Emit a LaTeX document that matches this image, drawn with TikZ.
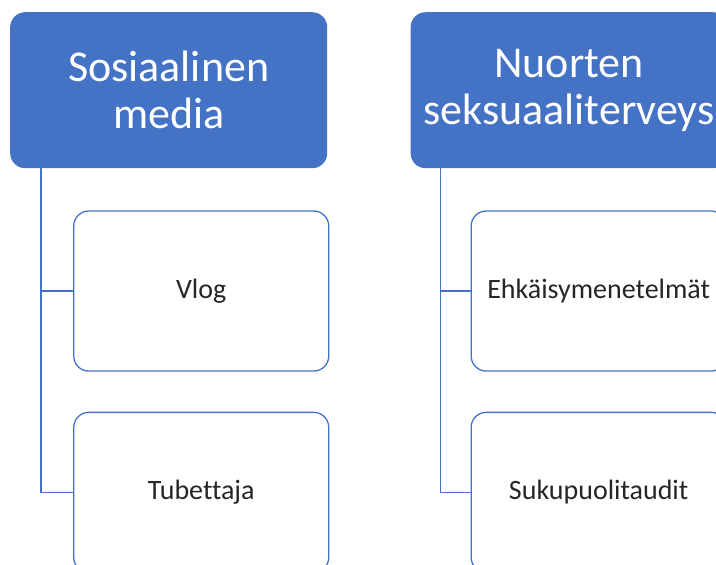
\documentclass[tikz,border=0pt]{standalone}
\usepackage{fontspec}
\setmainfont[Ligatures=NoCommon]{Carlito}
\usepackage{tikz}
\usetikzlibrary{positioning}
\definecolor{sablue}{HTML}{4472C4}

\begin{document}
\begin{tikzpicture}[x=1pt, y=1pt,
headnode/.style={rectangle, rounded corners=15pt, fill=sablue, text=white, minimum width=317pt, minimum height=156pt, align=center, font=\fontsize{44}{47}\selectfont},
childnode/.style={rectangle, rounded corners=15pt, draw=sablue, fill=white, line width=1.3pt, minimum width=255pt, minimum height=160pt, text=black!85, font=\fontsize{28}{32}\selectfont},
linkline/.style={draw=sablue, line width=1.3pt},
]
\clip (0,0) rectangle (716,-565);
%Nodes
\node[headnode, anchor=north west] (Some)   at (10,-12)       {Sosiaalinen\\media};
\node[headnode]      (Health)              [right=83pt of Some]     {Nuorten\\seksuaaliterveys};
\node[childnode]     (Vlog)                [below left=42pt and -2pt of Some.south east]     {Vlog};
\node[childnode]     (Tubettaja)           [below=40pt of Vlog]     {Tubettaja};
\node[childnode]     (Ehkaisy)             [below left=42pt and 1pt of Health.south east]     {Ehkäisymenetelmät};
\node[childnode]     (Taudit)              [below=40pt of Ehkaisy]     {Sukupuolitaudit};
\coordinate (trunkA) at ([xshift=31pt]Some.south west);
\coordinate (trunkB) at ([xshift=30pt]Health.south west);

%Lines
\draw[linkline] (trunkA) |- (Vlog.west);
\draw[linkline] (trunkA) |- (Tubettaja.west);
\draw[linkline] (trunkB) |- (Ehkaisy.west);
\draw[linkline] (trunkB) |- (Taudit.west);
\end{tikzpicture}
\end{document}
